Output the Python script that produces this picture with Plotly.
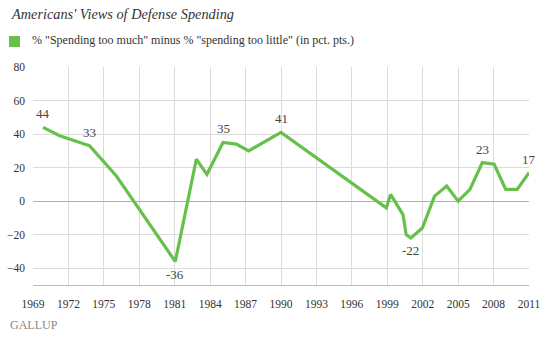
import plotly.graph_objects as go

# Data (decimal year of poll, net value in pct. pts.)
years = [1969.85, 1971.26, 1973.8, 1976.06, 1981.05, 1982.83, 1983.73, 1985.09,
         1986.22, 1987.26, 1990.0, 1998.92, 1999.28, 2000.33, 2000.6, 2001.0,
         2001.97, 2003.0, 2004.03, 2005.0, 2006.0, 2007.05, 2008.05, 2009.03,
         2010.0, 2011.0]
values = [44, 39, 33, 15, -36, 25, 16, 35, 34, 30, 41, -4, 4, -8, -20, -22,
          -16, 3, 9, 0, 7, 23, 22, 7, 7, 17]
labeled = {0: "above", 2: "above", 4: "below", 7: "above", 10: "above",
           15: "below", 21: "above", 25: "above"}
x_ticks = list(range(1969, 2012, 3))
y_ticks = [-40, -20, 0, 20, 40, 60, 80]

GREEN = "#66c04a"
SERIF = "Liberation Serif"

fig = go.Figure()
fig.add_trace(go.Scatter(x=years, y=values, mode="lines",
                         line=dict(color=GREEN, width=3.2),
                         showlegend=False, hoverinfo="skip"))

for i, pos in labeled.items():
    fig.add_annotation(x=years[i], y=values[i], text=str(values[i]),
                       showarrow=False, xanchor="center",
                       yanchor="bottom" if pos == "above" else "top",
                       yshift=4 if pos == "above" else -3,
                       font=dict(family=SERIF, size=13, color="#444"))

fig.update_layout(
    width=550, height=345,
    margin=dict(l=33, r=21, t=67, b=60),
    paper_bgcolor="white", plot_bgcolor="white",
    font=dict(family=SERIF, size=11, color="#333"),
    xaxis=dict(range=[1969, 2011], tickvals=x_ticks, ticktext=[str(t) for t in x_ticks],
               showgrid=True, gridcolor="#dcdcdc", gridwidth=1,
               showline=True, linecolor="#bbbbbb", linewidth=1,
               ticks="", ticklen=0, zeroline=False, automargin=False,
               ticklabelstandoff=8,
               tickfont=dict(family=SERIF, size=11.5, color="#333")),
    yaxis=dict(range=[-50, 80], tickvals=y_ticks,
               showgrid=True, gridcolor="#dcdcdc", gridwidth=1,
               zeroline=True, zerolinecolor="#b0b0b0", zerolinewidth=1,
               showline=False, ticks="", ticklabelstandoff=7, automargin=False,
               tickfont=dict(family=SERIF, size=11.5, color="#333")),
    showlegend=False,
)

# Title
fig.add_annotation(xref="paper", yref="paper", x=-24/496, y=1 + 53/218,
                   xanchor="left", yanchor="middle", showarrow=False,
                   text="<i>Americans' Views of Defense Spending</i>",
                   font=dict(family=SERIF, size=14.3, color="#333"))
# Legend
fig.add_shape(type="rect", xref="paper", yref="paper",
              x0=-24/496, x1=-13/496, y0=1 + 20/218, y1=1 + 31/218,
              fillcolor=GREEN, line=dict(width=0))
fig.add_annotation(xref="paper", yref="paper", x=-3/496, y=1 + 26.5/218,
                   xanchor="left", yanchor="middle", showarrow=False,
                   text='% "Spending too much" minus % "spending too little" (in pct. pts.)',
                   font=dict(family=SERIF, size=12, color="#333"))
# Source logo
fig.add_annotation(xref="paper", yref="paper", x=-25/496, y=-40/218,
                   xanchor="left", yanchor="middle", showarrow=False,
                   text="GALLUP",
                   font=dict(family=SERIF, size=12, color="#888"))

fig.write_html("out.html")
